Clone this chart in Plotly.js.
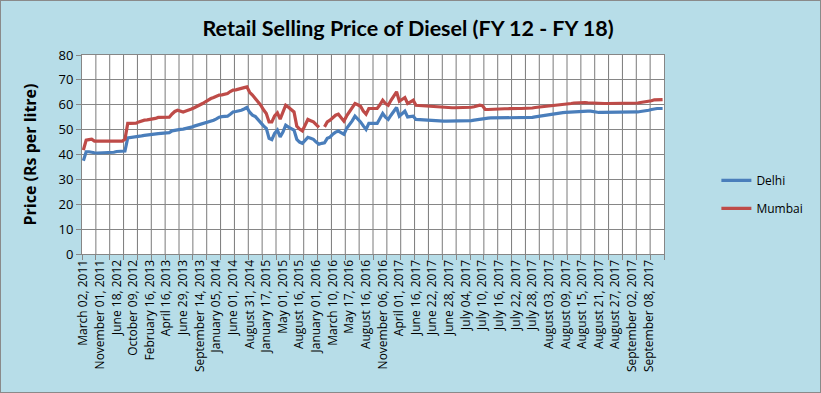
<!DOCTYPE html>
<html>
<head>
<meta charset="utf-8">
<script src="https://cdn.plot.ly/plotly-3.0.1.min.js"></script>
<style>
  html, body { margin: 0; padding: 0; background: #b7dde8; }
  #chart { width: 819px; height: 391px; border: 1px solid #8a8a8a; }
</style>
</head>
<body>
<div id="chart"></div>
<script>
// Tick labels (every 6th category on the x axis)
const tickLabels = [
  "March 02, 2011", "November 01, 2011", "June 18, 2012", "October 09, 2012",
  "February 16, 2013", "April 16, 2013", "June 29, 2013", "September 14, 2013",
  "January 05, 2014", "June 01, 2014", "August 31, 2014", "January 17, 2015",
  "May 01, 2015", "August 16, 2015", "January 01, 2016", "March 10, 2016",
  "May 17, 2016", "August 16, 2016", "November 06, 2016", "April 01, 2017",
  "June 16, 2017", "June 22, 2017", "June 28, 2017", "July 04, 2017",
  "July 10, 2017", "July 16, 2017", "July 22, 2017", "July 28, 2017",
  "August 03, 2017", "August 09, 2017", "August 15, 2017", "August 21, 2017",
  "August 27, 2017", "September 02, 2017", "September 08, 2017"
];

// Delhi retail diesel price (Rs per litre), one value per price date
const delhi = [
  37.5, 41.1, 41.1, 40.8, 40.7, 40.6, 40.6, 40.6, 40.6, 40.6,
  40.6, 40.9, 41.2, 41.2, 41.3, 41.4, 46.7, 46.8, 47.0, 47.2,
  47.4, 47.5, 47.7, 47.9, 48.1, 48.2, 48.3, 48.4, 48.5, 48.6,
  48.7, 48.8, 49.5, 49.8, 50.0, 50.1, 50.2, 50.4, 50.5, 51.0,
  51.4, 51.7, 52.1, 52.4, 52.7, 53.1, 53.4, 53.8, 54.3, 55.0,
  55.2, 55.3, 55.4, 56.2, 57.1, 57.3, 57.5, 57.8, 58.3, 58.9,
  57.0, 55.8, 55.3, 54.0, 52.5, 51.5, 50.5, 46.5, 46.0, 48.5,
  49.8, 47.1, 49.0, 51.8, 51.0, 50.5, 49.8, 46.1, 45.0, 44.5,
  45.8, 46.9, 46.5, 46.1, 45.0, 44.1, 44.5, 44.7, 46.5, 47.0,
  48.2, 49.0, 49.4, 48.8, 48.1, 50.5, 51.8, 53.5, 55.4, 54.3,
  53.1, 51.5, 50.1, 52.5, 52.5, 52.5, 52.5, 54.5, 56.5, 55.0,
  54.1, 55.8, 57.5, 58.9, 55.4, 56.5, 57.4, 55.1, 55.2, 55.4,
  54.1, 54.0, 53.9, 53.9, 53.8, 53.8, 53.7, 53.6, 53.5, 53.5,
  53.4, 53.4, 53.4, 53.4, 53.4, 53.4, 53.4, 53.4, 53.4, 53.4,
  53.6, 53.8, 54.0, 54.3, 54.5, 54.6, 54.6, 54.7, 54.7, 54.8,
  54.9, 54.9, 54.9, 54.9, 54.9, 54.9, 54.9, 54.9, 54.9, 54.9,
  54.9, 54.9, 54.9, 55.1, 55.3, 55.5, 55.7, 55.9, 56.1, 56.2,
  56.4, 56.5, 56.7, 56.8, 56.9, 57.0, 57.1, 57.2, 57.3, 57.4,
  57.4, 57.4, 57.4, 57.4, 57.2, 56.9, 56.9, 56.9, 56.9, 56.9,
  56.9, 56.9, 56.9, 56.9, 56.9, 56.9, 56.9, 56.9, 56.9, 56.9,
  57.1, 57.3, 57.4, 57.6, 57.8, 58.1, 58.4, 58.5, 58.5, 58.5
];

// Mumbai retail diesel price (Rs per litre); null = missing value
const mumbai = [
  41.8, 45.8, 46.0, 46.2, 45.4, 45.4, 45.4, 45.4, 45.4, 45.4,
  45.4, 45.4, 45.4, 45.4, 45.4, 46.1, 52.5, 52.5, 52.5, 52.6,
  53.1, 53.6, 53.8, 53.9, 54.0, 54.2, 54.5, 54.9, 54.9, 54.9,
  54.9, 55.0, 56.3, 57.3, 57.8, 57.6, 57.1, 57.5, 57.8, 58.3,
  58.8, 59.3, 59.9, 60.5, 61.2, 61.9, 62.5, 62.9, 63.5, 63.9,
  64.0, 64.2, 64.5, 65.3, 65.9, 66.0, 66.2, 66.5, 66.9, 67.2,
  65.0, 63.9, 62.5, 61.5, 59.8, 58.0, 56.5, 53.1, 53.1, 55.5,
  56.7, 54.2, 57.0, 59.8, 59.0, 58.0, 57.1, 51.4, 50.2, 49.5,
  52.0, 54.1, 53.6, 53.1, 52.0, 50.9, null, 51.1, 53.1, 53.8,
  55.0, 55.8, 56.2, 55.0, 53.4, 55.5, 57.1, 59.0, 60.5, 60.0,
  59.4, 57.5, 56.2, 58.5, 58.5, 58.5, 58.5, 60.0, 61.8, 60.5,
  59.8, 61.8, 63.5, 65.2, 61.4, 62.2, 62.9, 60.5, 61.2, 61.8,
  59.8, 59.7, 59.6, 59.6, 59.5, 59.4, 59.3, 59.2, 59.1, 59.0,
  58.9, 58.8, 58.8, 58.8, 58.8, 58.8, 58.8, 58.8, 58.8, 58.9,
  59.0, 59.2, 59.5, 59.8, 59.6, 58.1, 58.1, 58.2, 58.2, 58.3,
  58.3, 58.4, 58.4, 58.4, 58.5, 58.5, 58.5, 58.5, 58.5, 58.5,
  58.5, 58.6, 58.7, 58.9, 59.0, 59.2, 59.4, 59.5, 59.6, 59.7,
  59.8, 59.9, 60.0, 60.1, 60.2, 60.3, 60.5, 60.7, 60.8, 60.9,
  60.9, 60.9, 60.8, 60.7, 60.6, 60.5, 60.5, 60.5, 60.5, 60.5,
  60.5, 60.5, 60.5, 60.5, 60.5, 60.5, 60.5, 60.5, 60.5, 60.6,
  60.7, 60.9, 61.0, 61.1, 61.3, 61.6, 62.0, 62.1, 62.1, 62.1
];

const LABEL_STEP = 6;   // one label every 6 categories
const GRID_STEP = 5;    // one tick mark / gridline every 5 categories
const idx = delhi.map((_, i) => i);
const tickvals = tickLabels.map((_, k) => k * LABEL_STEP);
const xRange = [-0.5, idx.length - 0.5];
const gridCol = "#868686";

// vertical category gridlines, placed through the x axis scale
const gridShapes = [];
for (let g = xRange[0] + GRID_STEP; g < xRange[1]; g += GRID_STEP) {
  gridShapes.push({
    type: "line", xref: "x", yref: "paper", x0: g, x1: g, y0: 0, y1: 1,
    line: { color: "#7a7a7a", width: 1 }, layer: "below"
  });
}

const traces = [
  { x: idx, y: delhi, name: "Delhi", type: "scatter", mode: "lines",
    line: { color: "#4a7ebb", width: 3.2 }, connectgaps: false, legendgroup: "a" },
  { x: idx, y: mumbai, name: "Mumbai", type: "scatter", mode: "lines",
    line: { color: "#be4b48", width: 3.2 }, connectgaps: false, legendgroup: "b" }
];

const layout = {
  width: 819, height: 391,
  paper_bgcolor: "#b7dde8",
  plot_bgcolor: "#ffffff",
  margin: { l: 81, r: 130, t: 54, b: 138 },
  font: { family: "'Open Sans', sans-serif", color: "#000000" },
  title: {
    text: "<b>Retail Selling Price of Diesel (FY 12 - FY 18)</b>",
    font: { family: "Lato, sans-serif", size: 21.5, color: "#000000" },
    x: 0.497, xanchor: "center", y: 0.93, yanchor: "middle"
  },
  shapes: gridShapes,
  xaxis: {
    range: xRange,
    tickmode: "array", tickvals: tickvals, ticktext: tickLabels,
    tickangle: -90, tickfont: { size: 12, family: "'Open Sans', sans-serif" },
    ticks: "", showgrid: false, zeroline: false,
    showline: true, linecolor: gridCol, linewidth: 1, mirror: true,
    minor: { tickmode: "linear", tick0: -0.5, dtick: GRID_STEP,
             ticks: "outside", ticklen: 5, tickcolor: gridCol, showgrid: false },
    fixedrange: true
  },
  yaxis: {
    range: [0, 80], dtick: 10, tick0: 0,
    showgrid: true, gridcolor: gridCol, gridwidth: 1,
    ticks: "outside", ticklen: 5, tickcolor: gridCol,
    showline: true, linecolor: gridCol, linewidth: 1, mirror: true,
    zeroline: false,
    tickfont: { size: 13, family: "'Open Sans', sans-serif" },
    title: { text: "<b>Price (Rs per litre)</b>", font: { size: 16, family: "'Open Sans', sans-serif" }, standoff: 17 },
    fixedrange: true
  },
  legend: {
    x: 0.995, xanchor: "right", xref: "paper", y: 0.30, yanchor: "middle",
    bgcolor: "rgba(0,0,0,0)", font: { size: 12, family: "'Open Sans', sans-serif" },
    traceorder: "grouped", tracegroupgap: 9, itemwidth: 30,
    entrywidth: 50, entrywidthmode: "pixels"
  },
  showlegend: true
};
// place legend so that its left edge sits just right of the plot area
layout.legend.x = 1.09;
layout.legend.xanchor = "left";

Plotly.newPlot("chart", traces, layout, { displayModeBar: false, staticPlot: true });
</script>
</body>
</html>
